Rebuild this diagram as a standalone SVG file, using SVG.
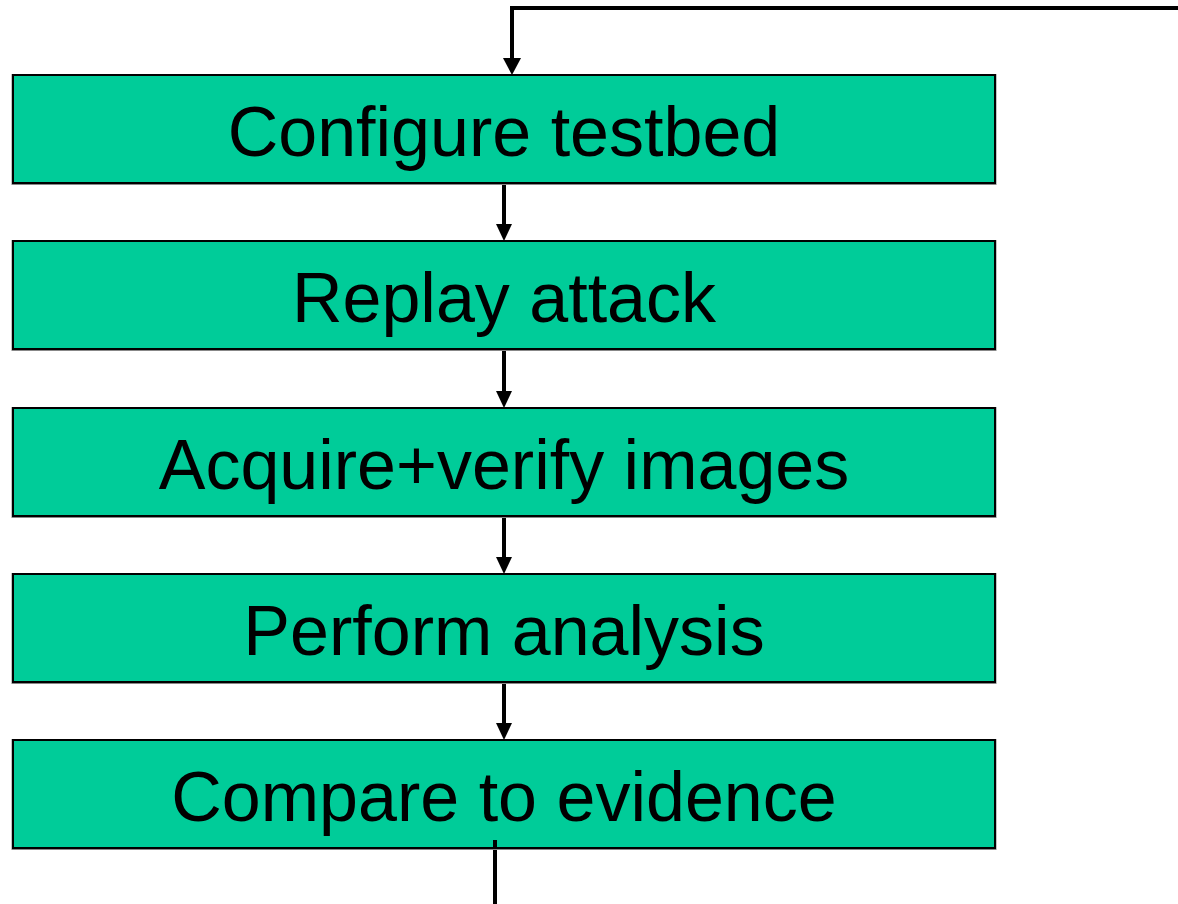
<svg xmlns="http://www.w3.org/2000/svg" width="1178" height="904" viewBox="0 0 1178 904">
<style>
.box{fill:#00CC99;stroke:#000;stroke-width:2}
.shadow{fill:none;stroke:#888;stroke-width:1}
.lbl{font-family:"Liberation Sans",Arial,sans-serif;font-size:70px;fill:#000;text-anchor:middle}
.conn{fill:none;stroke:#000;stroke-width:4}
</style>
<defs>
<marker id="ah" viewBox="0 0 18 17" refX="9" refY="17" markerWidth="18" markerHeight="17" markerUnits="userSpaceOnUse" orient="auto-start-reverse">
<path d="M0,0 L18,0 L9,17 Z" fill="#000"/>
</marker>
</defs>
<rect width="1178" height="904" fill="#fff"/>
<g id="connectors">
<polyline class="conn" points="1178,8 512,8 512,60"/>
<path d="M503,58 L521,58 L512,75 Z" fill="#000"/>
<line class="conn" x1="504" y1="183" x2="504" y2="226"/>
<path d="M496,224 L512,224 L504,241 Z" fill="#000"/>
<line class="conn" x1="504" y1="349" x2="504" y2="393"/>
<path d="M496,391 L512,391 L504,408 Z" fill="#000"/>
<line class="conn" x1="504" y1="516" x2="504" y2="559"/>
<path d="M496,557 L512,557 L504,574 Z" fill="#000"/>
<line class="conn" x1="504" y1="682" x2="504" y2="725"/>
<path d="M496,723 L512,723 L504,740 Z" fill="#000"/>
<line class="conn" x1="495" y1="840" x2="495" y2="904"/>
</g>
<g id="n1">
<rect class="shadow" x="12" y="74.5" width="984" height="110"/>
<rect class="box" x="13" y="75" width="982" height="108"/>
<text class="lbl" x="504" y="156">Configure testbed</text>
</g>
<g id="n2">
<rect class="shadow" x="12" y="240.5" width="984" height="110"/>
<rect class="box" x="13" y="241" width="982" height="108"/>
<text class="lbl" x="504" y="322">Replay attack</text>
</g>
<g id="n3">
<rect class="shadow" x="12" y="407.5" width="984" height="110"/>
<rect class="box" x="13" y="408" width="982" height="108"/>
<text class="lbl" x="504" y="489">Acquire+verify images</text>
</g>
<g id="n4">
<rect class="shadow" x="12" y="573.5" width="984" height="110"/>
<rect class="box" x="13" y="574" width="982" height="108"/>
<text class="lbl" x="504" y="655">Perform analysis</text>
</g>
<g id="n5">
<rect class="shadow" x="12" y="739.5" width="984" height="110"/>
<rect class="box" x="13" y="740" width="982" height="108"/>
<text class="lbl" x="504" y="821">Compare to evidence</text>
</g>
<line class="conn" x1="495" y1="840" x2="495" y2="848"/>
</svg>
